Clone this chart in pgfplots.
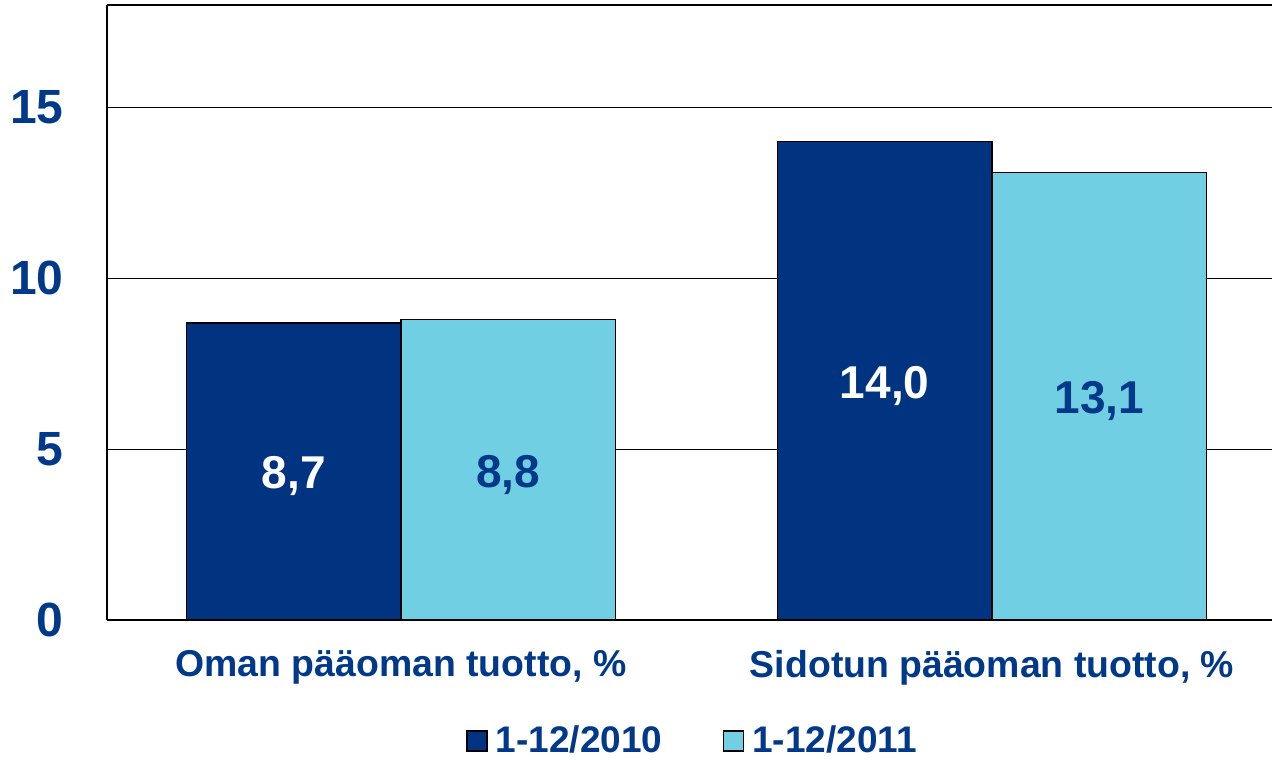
\documentclass[border=0pt]{standalone}
\usepackage{pgfplots}
\pgfplotsset{compat=1.18}
\usepackage{fontspec}
\setmainfont{Liberation Sans}
\definecolor{dblue}{RGB}{0,51,128}
\definecolor{lblue}{RGB}{112,207,227}
\definecolor{tblue}{RGB}{0,56,138}
\begin{document}
\begin{tikzpicture}
\begin{axis}[
  name=ax,
  scale only axis,
  width=582.5pt, height=307.5pt,
  xmin=-0.4975, xmax=1.4738,
  ymin=0, ymax=18,
  ybar=0pt, bar width=107.25pt,
  axis x line=box, axis y line=left,
  axis line style={black, line width=1.2pt, -},
  ytick={0,5,10,15},
  ymajorgrids, grid style={black, line width=0.6pt},
  major tick length=0pt,
  xtick={0,1},
  xticklabels={{Oman pääoman tuotto, \%}, {Sidotun pääoman tuotto, \%}},
  xticklabel style={font=\fontsize{18.7}{22}\selectfont\bfseries, text=tblue, yshift=-11.5pt},
  yticklabel style={font=\fontsize{24}{29}\selectfont\bfseries, text=tblue, anchor=east, inner sep=0pt, xshift=-21.5pt},
  /pgf/number format/assume math mode=true,
  legend style={at={(0.5,0)}, anchor=center, yshift=-60.5pt, xshift=2pt, draw=none,
    font=\fontsize{18.5}{22}\selectfont\bfseries, text=tblue,
    /tikz/every even column/.append style={column sep=28pt}},
  legend columns=2,
  legend image code/.code={\draw[#1, line width=0.8pt] (0pt,-5pt) rectangle (10pt,5pt);},
  legend cell align=left,
  visualization depends on={y \as \rawy},
  nodes near coords,
  nodes near coords style={font=\fontsize{23}{27}\selectfont\bfseries, anchor=center,
    shift={(axis direction cs:0,-\rawy/2)}, yshift=-2.5pt,
    /pgf/number format/fixed, /pgf/number format/fixed zerofill,
    /pgf/number format/precision=1, /pgf/number format/use comma,
    /pgf/number format/assume math mode=true},
]
\addplot[fill=dblue, draw=black, line width=0.8pt, nodes near coords style={text=white}]
  coordinates {(0,8.7) (1,14.0)};
\addplot[fill=lblue, draw=black, line width=0.8pt, nodes near coords style={text=tblue}]
  coordinates {(0,8.8) (1,13.1)};
\legend{\hspace{2pt}1-12/2010, \hspace{2pt}1-12/2011}
\end{axis}
\pgfresetboundingbox
\path ([xshift=-53.5pt,yshift=-69.5pt]ax.south west) rectangle ([yshift=2.5pt]ax.north east);
\end{tikzpicture}
\end{document}
